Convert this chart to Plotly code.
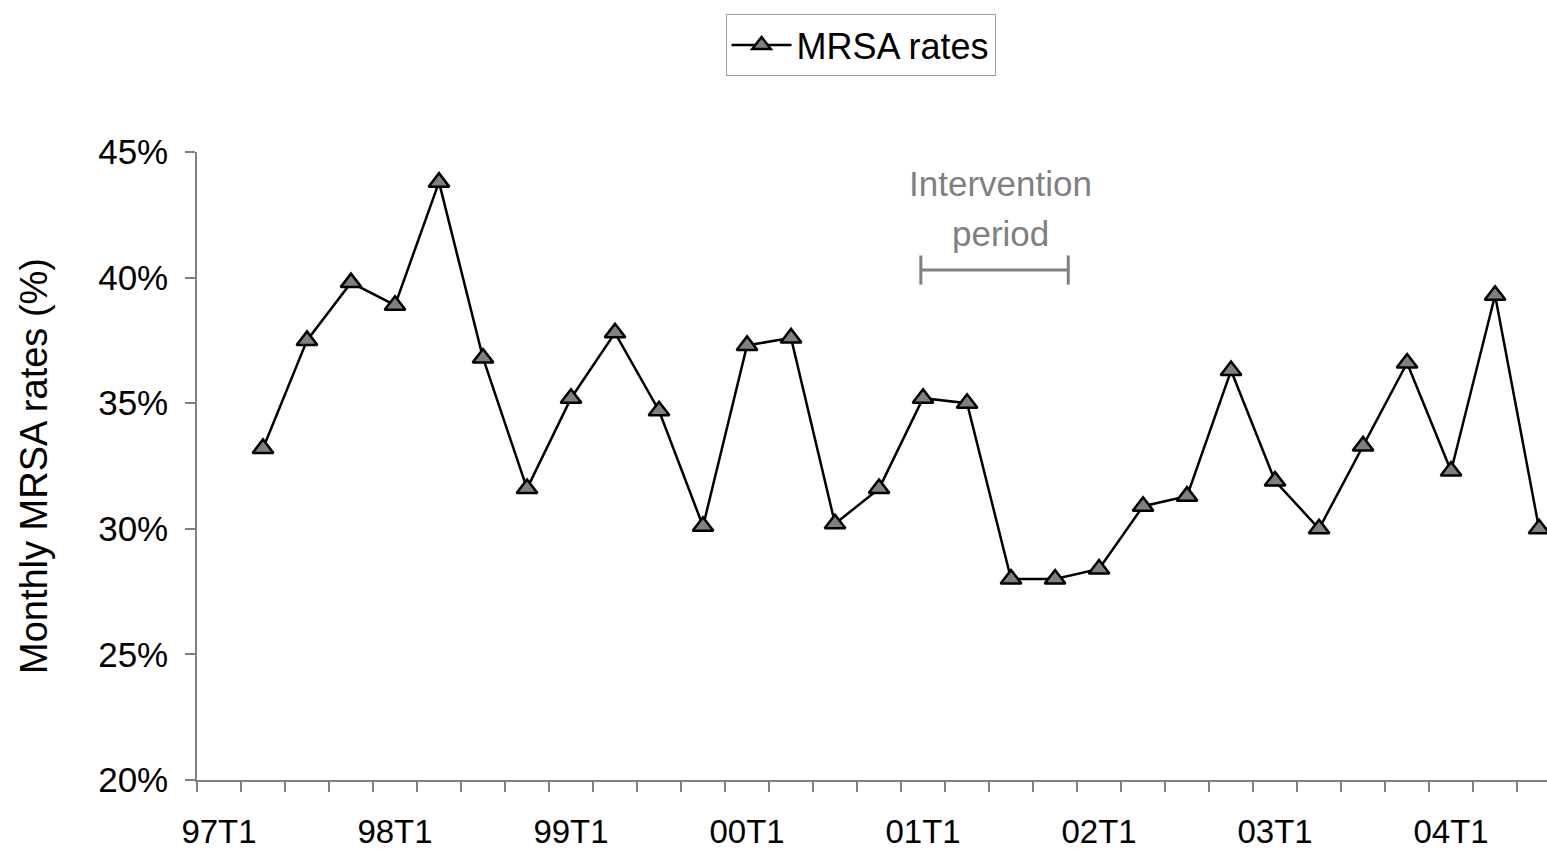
import plotly.graph_objects as go

# ---- data ----
quarters = []
for yr in ["97", "98", "99", "00", "01", "02", "03", "04"]:
    for q in ["T1", "T2", "T3", "T4"]:
        quarters.append(yr + q)
quarters = quarters[:31]  # 97T1 .. 04T3

mrsa_rates = [None,
              0.332, 0.375, 0.398,
              0.389, 0.438, 0.368, 0.316,
              0.352, 0.378, 0.347, 0.301,
              0.373, 0.376, 0.302, 0.316,
              0.352, 0.350, 0.280, 0.280,
              0.284, 0.309, 0.313, 0.363,
              0.319, 0.300, 0.333, 0.366,
              0.323, 0.393, 0.300]

tick_labels = quarters[::4]
intervention_start = 15.95
intervention_end = 19.3
intervention_y = 0.403

FONT = "Liberation Sans, Arial, sans-serif"
GRAY = "#808080"

x_idx = list(range(len(quarters)))

fig = go.Figure()
fig.add_trace(go.Scatter(
    x=x_idx, y=mrsa_rates, name="MRSA rates",
    mode="lines+markers",
    line=dict(color="black", width=2.5),
    marker=dict(symbol="triangle-up", size=18, color=GRAY,
                line=dict(color="black", width=2.5)),
    connectgaps=False,
))

# intervention bracket
fig.add_shape(type="line", xref="x", yref="y",
              x0=intervention_start, x1=intervention_end,
              y0=intervention_y, y1=intervention_y,
              line=dict(color=GRAY, width=3))
for xv in (intervention_start, intervention_end):
    fig.add_shape(type="line", xref="x", yref="y",
                  x0=xv, x1=xv, y0=intervention_y - 0.0058, y1=intervention_y + 0.0058,
                  line=dict(color=GRAY, width=3))

fig.add_annotation(x=17.75, y=0.4376, xref="x", yref="y", text="Intervention",
                   showarrow=False, font=dict(family=FONT, size=35, color=GRAY))
fig.add_annotation(x=17.75, y=0.4177, xref="x", yref="y", text="period",
                   showarrow=False, font=dict(family=FONT, size=35, color=GRAY))

fig.update_layout(
    width=1547, height=849,
    margin=dict(l=197, r=0, t=152, b=69, autoexpand=False),
    paper_bgcolor="white", plot_bgcolor="white",
    font=dict(family=FONT, size=35, color="black"),
    showlegend=True,
    legend=dict(x=0.4915, y=1.2197, xanchor="center", yanchor="top",
                bordercolor="#a0a0a0", borderwidth=1,
                font=dict(family=FONT, size=36, color="black"),
                itemwidth=60),
)

fig.update_xaxes(
    range=[-0.5, 30.18], automargin=False,
    tickmode="array", tickvals=x_idx[::4], ticktext=tick_labels,
    ticks="", showgrid=False, zeroline=False,
    showline=True, linecolor=GRAY, linewidth=1.5,
    tickfont=dict(family=FONT, size=33, color="black"),
    ticklabelstandoff=22,
    minor=dict(tickmode="linear", tick0=-0.5, dtick=1, ticks="outside",
               ticklen=10, tickcolor=GRAY, tickwidth=1.5, showgrid=False),
)
fig.update_yaxes(
    range=[0.20, 0.45], automargin=False,
    tickmode="linear", tick0=0.20, dtick=0.05,
    tickformat=".0%",
    ticks="outside", ticklen=10, tickcolor=GRAY, tickwidth=1.5,
    showgrid=False, zeroline=False,
    showline=True, linecolor=GRAY, linewidth=1.5,
    tickfont=dict(family=FONT, size=35, color="black"),
    ticklabelstandoff=10,
    title=dict(text="Monthly MRSA rates (%)", standoff=39,
               font=dict(family=FONT, size=38, color="black")),
)

fig.write_html("out.html", config={"displayModeBar": False},
               post_script="document.body.style.margin='0';document.body.style.overflow='hidden';")
